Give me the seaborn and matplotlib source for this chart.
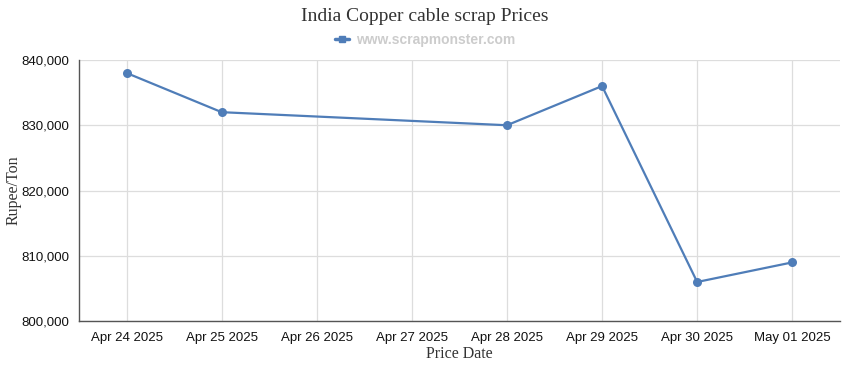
import pandas as pd
import matplotlib.pyplot as plt
import matplotlib.ticker as mticker
from matplotlib.lines import Line2D
import seaborn as sns

dates = ['2025-04-24', '2025-04-25', '2025-04-28', '2025-04-29', '2025-04-30', '2025-05-01']
prices = [838000, 832000, 830000, 836000, 806000, 809000]
tick_dates = pd.date_range('2025-04-24', '2025-05-01', freq='D')
tick_labels = [d.strftime('%b %d %Y') for d in tick_dates]

df = pd.DataFrame({'date': pd.to_datetime(dates), 'price': prices})

sns.set_style('white')
plt.rcParams['font.family'] = ['Liberation Sans', 'DejaVu Sans']

fig = plt.figure(figsize=(8.5, 3.7), dpi=100)
ax = fig.add_axes([0.093, 0.132, 0.895, 0.706])

line_color = '#4f7db8'
sns.lineplot(data=df, x='date', y='price', ax=ax, color=line_color, linewidth=1.6,
             marker='o', markersize=6.5, markeredgewidth=0)

ax.set_xlim(pd.Timestamp('2025-04-23 12:00'), pd.Timestamp('2025-05-01 12:00'))
ax.set_ylim(800000, 840000)
ax.set_xticks(tick_dates, labels=tick_labels, fontsize=9.5)
ax.yaxis.set_major_locator(mticker.MultipleLocator(10000))
ax.yaxis.set_major_formatter(mticker.FuncFormatter(lambda v, p: f'{int(v):,}'))

ax.grid(True, color='#dddddd', linewidth=0.9)
ax.set_axisbelow(True)
for s in ['top', 'right']:
    ax.spines[s].set_visible(False)
for s in ['left', 'bottom']:
    ax.spines[s].set_color('#555555')
    ax.spines[s].set_linewidth(1)
ax.tick_params(axis='both', length=5, color='#555555', labelcolor='#111111')
ax.tick_params(axis='y', labelsize=9.5, pad=2)
ax.tick_params(axis='x', pad=3)

ax.set_xlabel('Price Date', family='Liberation Serif', fontsize=11.5, color='#333333', labelpad=1)
ax.set_ylabel('Rupee/Ton', family='Liberation Serif', fontsize=11.5, color='#333333')
ax.yaxis.set_label_coords(-0.076, 0.5)

fig.text(0.5, 0.955, 'India Copper cable scrap Prices', ha='center', va='center',
         family='Liberation Serif', fontsize=14, color='#333333')

handle = Line2D([0], [0], color=line_color, linewidth=2.5, marker='s', markersize=5)
fig.legend(handles=[handle], labels=['www.scrapmonster.com'], loc='center',
           bbox_to_anchor=(0.5, 0.893), frameon=False, handlelength=1.0, handletextpad=0.5,
           prop={'family': 'Liberation Sans', 'weight': 'bold', 'size': 10}, labelcolor='#cccccc')

fig.savefig('out.png', dpi=100)
